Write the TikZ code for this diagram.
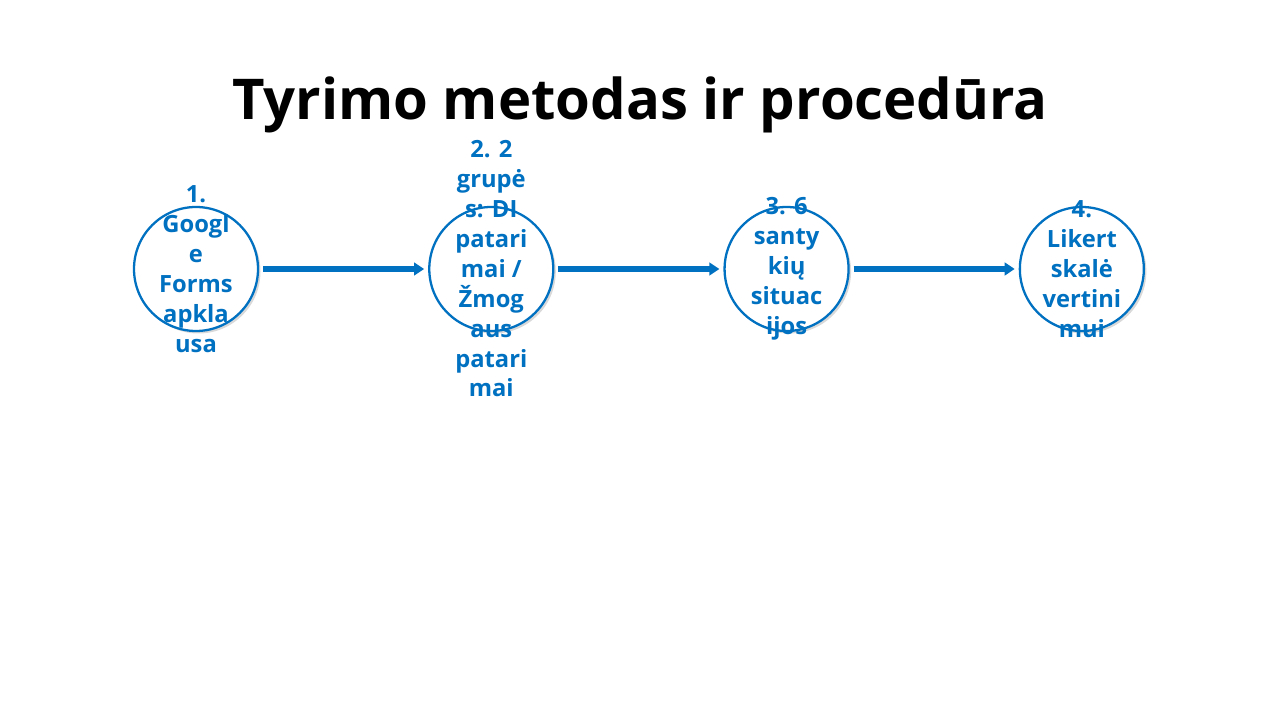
\documentclass[tikz,border=0pt]{standalone}
\usepackage{fontspec}
\setmainfont{Open Sans}
\usetikzlibrary{positioning,shadows,arrows.meta}
\definecolor{stageblue}{HTML}{0070C0}

\begin{document}
\begin{tikzpicture}[
                    node distance=0.5cm and 3.38cm,
                    every node/.style={align=center},
                    stage/.style={circle, draw=stageblue, line width=1.3pt, fill=white, minimum size=2.48cm, inner sep=0pt, drop shadow={opacity=0.3, shadow xshift=0.05cm, shadow yshift=-0.05cm}},
                    stagetext/.style={text=stageblue, font=\fontsize{13.5}{17}\selectfont\bfseries, align=center},
                    flow/.style={-{Triangle[length=0.2cm, width=0.25cm]}, draw=stageblue, line width=3pt, shorten <=0.08cm, shorten >=0.08cm}
                ]
                    \useasboundingbox (0,0) rectangle (25.6,14.4);

                    % Title
                    \node (title) [font=\fontsize{32}{36}\selectfont\bfseries] at (12.8,12.3) {Tyrimo metodas ir procedūra};

                    % Circles
                    \node (s1) [stage] at (3.92,9.02) {};
                    \node (s2) [stage, right=of s1] {};
                    \node (s3) [stage, right=of s2] {};
                    \node (s4) [stage, right=of s3] {};

                    % Labels
                    \node [stagetext] at (s1) {1.\\Googl\\e\\Forms\\apkla\\usa};
                    \node [stagetext] at (s2) {2. 2\\grupė\\s: DI\\patari\\mai /\\Žmog\\aus\\patari\\mai};
                    \node [stagetext] at (s3) {3. 6\\santy\\kių\\situac\\ijos};
                    \node [stagetext] at (s4) {4.\\Likert\\skalė\\vertini\\mui};

                    % Arrows
                    \draw[flow] (s1) -- (s2);
                    \draw[flow] (s2) -- (s3);
                    \draw[flow] (s3) -- (s4);

                \end{tikzpicture}
\end{document}
